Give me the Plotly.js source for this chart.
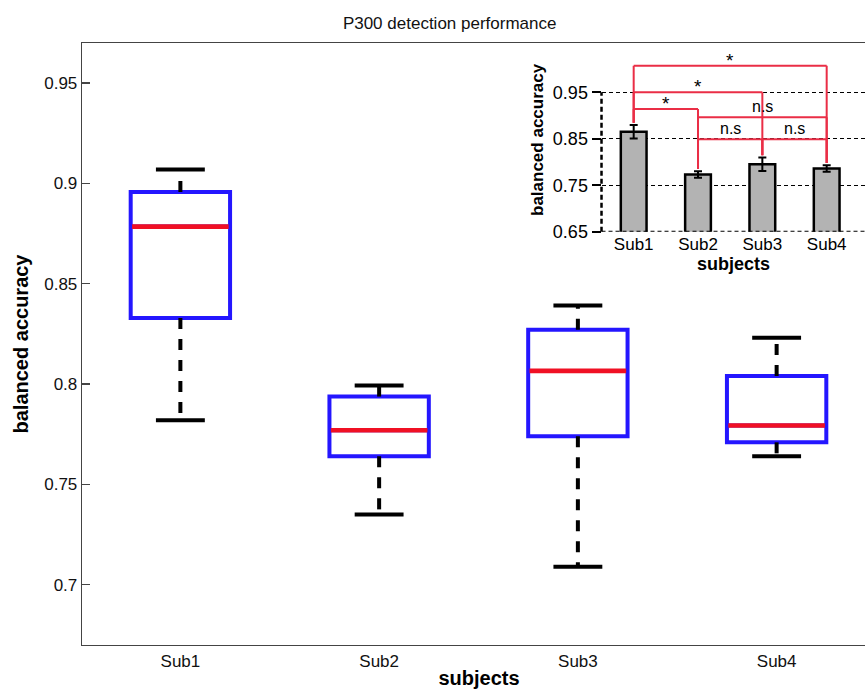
<!DOCTYPE html>
<html>
<head>
<meta charset="utf-8">
<script src="https://cdn.plot.ly/plotly-3.0.1.min.js"></script>
<style>
html, body { margin: 0; padding: 0; overflow: hidden; background: #fff; }
#chart { width: 880px; height: 689px; }
</style>
</head>
<body>
<div id="chart"></div>
<script>
// ---- main box-plot data (balanced accuracy per subject) ----
const subjects = ['Sub1', 'Sub2', 'Sub3', 'Sub4'];
const whiskerLow = [0.782, 0.735, 0.709, 0.764];
const q1 = [0.833, 0.764, 0.774, 0.771];
const median = [0.8785, 0.777, 0.8066, 0.7794];
const q3 = [0.8957, 0.7938, 0.8271, 0.8041];
const whiskerHigh = [0.907, 0.7993, 0.8392, 0.8231];
const yTickVals = [0.7, 0.75, 0.8, 0.85, 0.9, 0.95];
const yTickText = ['0.7', '0.75', '0.8', '0.85', '0.9', '0.95'];

// ---- inset bar chart data ----
const meanAcc = [0.865, 0.773, 0.795, 0.786];
const errAcc = [0.0143, 0.007, 0.0144, 0.007];
const insetTickVals = [0.65, 0.75, 0.85, 0.95];
const insetTickText = ['0.65', '0.75', '0.85', '0.95'];

// ---- significance comparisons (inset) ----
const sigFrom = [0, 0, 0, 1, 1, 2];
const sigTo = [3, 2, 1, 3, 2, 3];
const sigLevel = [1.007, 0.95, 0.914, 0.896, 0.849, 0.849];
const sigLabel = ['*', '*', '*', 'n.s', 'n.s', 'n.s'];

const FONT = 'Liberation Sans, Arial, Helvetica, sans-serif';
const BLUE = 'rgb(36,22,255)';
const RED = 'rgb(240,16,36)';
const BRACKET = 'rgb(234,46,70)';
const idx = subjects.map((_, i) => i);

// whiskers (dashed)
const wx = [], wy = [];
idx.forEach(i => {
  wx.push(i, i, null, i, i, null);
  wy.push(q3[i], whiskerHigh[i], null, q1[i], whiskerLow[i], null);
});
// caps
const cx = [], cy = [];
const capHalf = 0.123;
idx.forEach(i => {
  cx.push(i - capHalf, i + capHalf, null, i - capHalf, i + capHalf, null);
  cy.push(whiskerHigh[i], whiskerHigh[i], null, whiskerLow[i], whiskerLow[i], null);
});
// medians
const mx = [], my = [];
const medHalf = 0.243;
idx.forEach(i => {
  mx.push(i - medHalf, i + medHalf, null);
  my.push(median[i], median[i], null);
});

const traces = [
  {
    type: 'scatter', mode: 'lines', x: wx, y: wy, xaxis: 'x', yaxis: 'y',
    line: { color: '#000', width: 4, dash: '11px,10px' }, hoverinfo: 'skip', showlegend: false
  },
  {
    type: 'scatter', mode: 'lines', x: cx, y: cy, xaxis: 'x', yaxis: 'y',
    line: { color: '#000', width: 4 }, hoverinfo: 'skip', showlegend: false
  },
  {
    type: 'box', x: idx, q1: q1, median: median, q3: q3,
    lowerfence: q1, upperfence: q3, xaxis: 'x', yaxis: 'y',
    width: 0.5, whiskerwidth: 0, fillcolor: 'rgba(255,255,255,0)',
    line: { color: BLUE, width: 4 }, showlegend: false, hoverinfo: 'skip'
  },
  {
    type: 'scatter', mode: 'lines', x: mx, y: my, xaxis: 'x', yaxis: 'y',
    line: { color: RED, width: 4.6 }, hoverinfo: 'skip', showlegend: false
  },
  {
    type: 'bar', x: idx, y: meanAcc, xaxis: 'x2', yaxis: 'y2', width: 0.4,
    marker: { color: '#b3b3b3', line: { color: '#000', width: 2.5 } },
    error_y: { type: 'data', array: errAcc, visible: true, color: '#000', thickness: 2, width: 4 },
    showlegend: false, hoverinfo: 'skip'
  }
];

// bracket shapes
const shapes = [];
const dropTo = i => meanAcc[i] + errAcc[i] + 0.005;
sigFrom.forEach((a, k) => {
  const b = sigTo[k], lv = sigLevel[k];
  const line = { color: BRACKET, width: 2 };
  shapes.push({ type: 'line', xref: 'x2', yref: 'y2', x0: a, x1: b, y0: lv, y1: lv, line, layer: 'above' });
  shapes.push({ type: 'line', xref: 'x2', yref: 'y2', x0: a, x1: a, y0: lv, y1: dropTo(a), line, layer: 'above' });
  shapes.push({ type: 'line', xref: 'x2', yref: 'y2', x0: b, x1: b, y0: lv, y1: dropTo(b), line, layer: 'above' });
});
// inset dashed axis lines
shapes.push({ type: 'line', xref: 'x2 domain', yref: 'y2', x0: 0, x1: 0,
  y0: insetTickVals[0], y1: insetTickVals[insetTickVals.length - 1],
  line: { color: '#000', width: 2.5, dash: '5px,3px' }, layer: 'above' });
shapes.push({ type: 'line', xref: 'x2 domain', yref: 'y2', x0: 0, x1: 1,
  y0: insetTickVals[0], y1: insetTickVals[0],
  line: { color: '#000', width: 2, dash: '4px,3px' }, layer: 'above' });

const annotations = sigFrom.map((a, k) => ({
  xref: 'x2', yref: 'y2', x: (a + sigTo[k]) / 2, y: sigLevel[k],
  text: sigLabel[k], showarrow: false, xanchor: 'center', yanchor: 'bottom',
  yshift: sigLabel[k] === '*' ? -7 : 0,
  font: { family: FONT, size: sigLabel[k] === '*' ? 19 : 16, color: '#000' }
}));

const layout = {
  width: 880, height: 689,
  margin: { l: 82, r: 4, t: 43, b: 44 },
  paper_bgcolor: '#fff', plot_bgcolor: '#fff',
  font: { family: FONT, color: '#000' },
  title: {
    text: 'P300 detection performance', font: { family: FONT, size: 17, color: '#111' },
    x: 0.511, xref: 'container', xanchor: 'center', y: 0.966, yref: 'container', yanchor: 'middle'
  },
  xaxis: {
    domain: [0, 1], range: [-0.495, 3.5], tickvals: idx, ticktext: subjects,
    showgrid: false, zeroline: false, showline: true, mirror: true, linecolor: '#444', linewidth: 1.3,
    ticks: '', tickfont: { family: FONT, size: 17, color: '#111' },
    title: { text: 'subjects', font: { family: FONT, size: 20, weight: 'bold', color: '#000' }, standoff: 4 }
  },
  yaxis: {
    domain: [0, 1], range: [0.67, 0.97], tickvals: yTickVals, ticktext: yTickText,
    showgrid: false, zeroline: false, showline: true, mirror: true, linecolor: '#444', linewidth: 1.3,
    ticks: 'inside', ticklen: 8, tickwidth: 1.3, tickcolor: '#444',
    tickfont: { family: FONT, size: 17, color: '#111' },
    title: { text: 'balanced accuracy', font: { family: FONT, size: 20, weight: 'bold', color: '#000' }, standoff: 10 }
  },
  xaxis2: {
    domain: [0.6543, 0.9865], range: [-0.5, 3.6], anchor: 'y2', tickvals: idx, ticktext: subjects,
    showgrid: false, zeroline: false, showline: false, ticks: '',
    tickfont: { family: FONT, size: 17, color: '#000' },
    title: { text: 'subjects', font: { family: FONT, size: 18, weight: 'bold', color: '#000' }, standoff: 0 }
  },
  yaxis2: {
    domain: [0.6866, 0.9915], range: [0.65, 1.045], anchor: 'x2', tickvals: insetTickVals, ticktext: insetTickText,
    showgrid: true, gridcolor: '#000', gridwidth: 1, griddash: '4px,3px',
    zeroline: false, showline: false,
    ticks: 'outside', ticklen: 9, tickwidth: 2, tickcolor: '#000',
    tickfont: { family: FONT, size: 18, color: '#000' },
    title: { text: 'balanced accuracy', font: { family: FONT, size: 17, weight: 'bold', color: '#000' }, standoff: 4 }
  },
  shapes: shapes,
  annotations: annotations,
  showlegend: false
};

Plotly.newPlot('chart', traces, layout, { staticPlot: true, displayModeBar: false });
</script>
</body>
</html>
